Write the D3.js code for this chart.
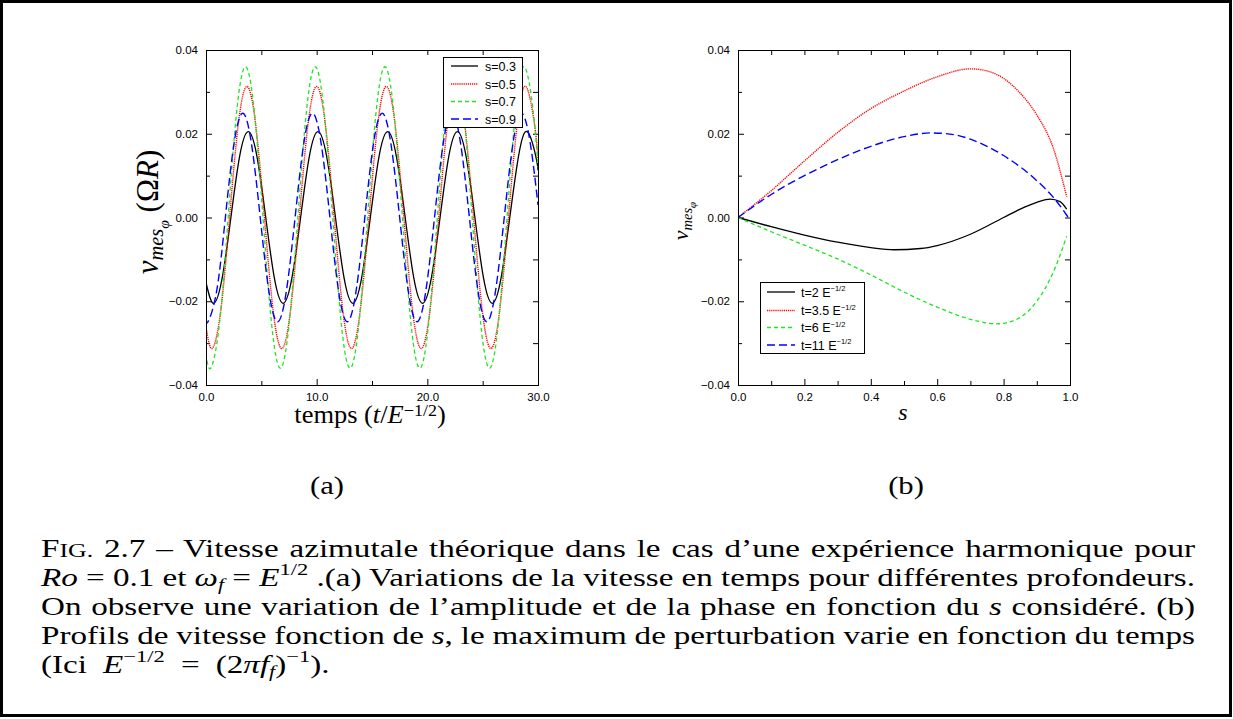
<!DOCTYPE html>
<html><head><meta charset="utf-8">
<script src="https://cdn.jsdelivr.net/npm/d3@7"></script>
<style>body{margin:0;background:#fff}svg{display:block}</style>
</head><body>
<svg id="c" width="1233" height="719"></svg>
<script>
// ---------------- data ----------------
const timeTicks = [0, 10, 20, 30];
const timeTickLabels = ["0.0", "10.0", "20.0", "30.0"];
const timeMinor = [5, 15, 25];
const velTicks = [0.04, 0.02, 0, -0.02, -0.04];
const velTickLabels = ["0.04", "0.02", "0.00", "\u22120.02", "\u22120.04"];
const velMinor = [0.03, 0.01, -0.01, -0.03];
const sTicks = [0, 0.2, 0.4, 0.6, 0.8, 1.0];
const sTickLabels = ["0.0", "0.2", "0.4", "0.6", "0.8", "1.0"];
const sMinor = [0.1, 0.3, 0.5, 0.7, 0.9];

const depthNames = ["s=0.3", "s=0.5", "s=0.7", "s=0.9"];

const tS03 = [0,0.67,1.46,2.25,3.03,3.82,4.61,5.40,6.18,6.97,7.76,8.55,9.33,10.12,10.91,11.70,12.48,13.27,14.06,14.85,15.63,16.42,17.21,18.00,18.78,19.57,20.36,21.15,21.93,22.72,23.51,24.30,25.08,25.87,26.66,27.45,28.23,29.02,29.81,30];
const vS03 = [-0.0155,
 -0.0205,-0.0145,0,0.0145,0.0205,0.0145,0,-0.0145,
 -0.0205,-0.0145,0,0.0145,0.0205,0.0145,0,-0.0145,
 -0.0205,-0.0145,0,0.0145,0.0205,0.0145,0,-0.0145,
 -0.0205,-0.0145,0,0.0145,0.0205,0.0145,0,-0.0145,
 -0.0205,-0.0145,0,0.0145,0.0205,0.0145,
 0.0113];

const tS05 = [0,0.55,1.34,2.13,2.91,3.70,4.49,5.28,6.06,6.85,7.64,8.43,9.21,10.00,10.79,11.58,12.36,13.15,13.94,14.73,15.51,16.30,17.09,17.88,18.66,19.45,20.24,21.03,21.81,22.60,23.39,24.18,24.96,25.75,26.54,27.33,28.11,28.90,29.69,30];
const vS05 = [-0.0260,
 -0.0313,-0.0221,0,0.0221,0.0313,0.0221,0,-0.0221,
 -0.0313,-0.0221,0,0.0221,0.0313,0.0221,0,-0.0221,
 -0.0313,-0.0221,0,0.0221,0.0313,0.0221,0,-0.0221,
 -0.0313,-0.0221,0,0.0221,0.0313,0.0221,0,-0.0221,
 -0.0313,-0.0221,0,0.0221,0.0313,0.0221,
 0.0142];

const tS07 = [0,0.42,1.21,2.00,2.78,3.57,4.36,5.15,5.93,6.72,7.51,8.30,9.08,9.87,10.66,11.45,12.23,13.02,13.81,14.60,15.38,16.17,16.96,17.75,18.53,19.32,20.11,20.90,21.68,22.47,23.26,24.05,24.83,25.62,26.41,27.20,27.98,28.77,29.56,30];
const vS07 = [-0.0325,
 -0.0360,-0.0255,0,0.0255,0.0360,0.0255,0,-0.0255,
 -0.0360,-0.0255,0,0.0255,0.0360,0.0255,0,-0.0255,
 -0.0360,-0.0255,0,0.0255,0.0360,0.0255,0,-0.0255,
 -0.0360,-0.0255,0,0.0255,0.0360,0.0255,0,-0.0255,
 -0.0360,-0.0255,0,0.0255,0.0360,0.0255,
 0.0120];

const tS09 = [0,0.17,0.96,1.75,2.53,3.32,4.11,4.90,5.68,6.47,7.26,8.05,8.83,9.62,10.41,11.20,11.98,12.77,13.56,14.35,15.13,15.92,16.71,17.50,18.28,19.07,19.86,20.65,21.43,22.22,23.01,23.80,24.58,25.37,26.16,26.95,27.73,28.52,29.31,30];
const vS09 = [-0.0242,
 -0.0249,-0.0176,0,0.0176,0.0249,0.0176,0,-0.0176,
 -0.0249,-0.0176,0,0.0176,0.0249,0.0176,0,-0.0176,
 -0.0249,-0.0176,0,0.0176,0.0249,0.0176,0,-0.0176,
 -0.0249,-0.0176,0,0.0176,0.0249,0.0176,0,-0.0176,
 -0.0249,-0.0176,0,0.0176,0.0249,0.0176,
 0.0030];

const profileNames = ["t=2 E", "t=3.5 E", "t=6 E", "t=11 E"];
const profileExp = "\u22121/2";

const sT2  = [0,0.1,0.2,0.3,0.4,0.47,0.55,0.6,0.7,0.8,0.85,0.9,0.94,0.97,0.99];
const vT2  = [0,-0.0022,-0.0042,-0.0059,-0.0072,-0.0077,-0.0074,-0.0067,-0.0040,0.0000,0.0020,0.0036,0.0044,0.0038,0.0020];
const sT35 = [0,0.1,0.2,0.3,0.4,0.5,0.6,0.7,0.75,0.8,0.85,0.9,0.95,0.99];
const vT35 = [0,0.0064,0.0135,0.0203,0.0260,0.0302,0.0336,0.0355,0.0350,0.0332,0.0297,0.0245,0.0165,0.0050];
const sT6  = [0,0.1,0.2,0.3,0.4,0.5,0.6,0.7,0.78,0.84,0.9,0.95,0.99];
const vT6  = [0,-0.0034,-0.0066,-0.0099,-0.0137,-0.0178,-0.0214,-0.0243,-0.0254,-0.0243,-0.0200,-0.0130,-0.0045];
const sT11 = [0,0.1,0.2,0.3,0.4,0.5,0.58,0.65,0.7,0.8,0.9,0.95,0.995];
const vT11 = [0,0.0055,0.0100,0.0138,0.0170,0.0193,0.0202,0.0198,0.0187,0.0148,0.0088,0.0048,0.0000];

// ---------------- styles ----------------
const lineStyles = [
  {color: "#000000", dash: null,  width: 1.3},
  {color: "#ff0000", dash: "1.2,0.9", width: 1.4},
  {color: "#1ee61e", dash: "4,3", width: 1.3},
  {color: "#0000ff", dash: "8,4", width: 1.4}
];
const SANS = "'Liberation Sans', Arial, sans-serif";
const SERIF = "'Liberation Serif', 'Times New Roman', serif";

const zip = (a, b) => a.map((d, i) => [d, b[i]]);
const svg = d3.select("#c");

// outer frame
svg.append("rect").attr("x", 1.5).attr("y", 1.5).attr("width", 1229).attr("height", 714)
  .attr("fill", "none").attr("stroke", "#000").attr("stroke-width", 3);

function panel(id, xs, ys, xt, xl, xm, series, curve) {
  const g = svg.append("g");
  const [x0, x1] = xs.range();
  const [y0, y1] = ys.range();
  const clip = "clip" + id;
  svg.append("clipPath").attr("id", clip).append("rect")
    .attr("x", x0).attr("y", y1).attr("width", x1 - x0).attr("height", y0 - y1);

  const fx = d => xl[xt.indexOf(d)];
  const fy = d => velTickLabels[velTicks.indexOf(d)];
  const style = sel => {
    sel.select(".domain").remove();
    sel.selectAll("line").attr("stroke", "#000").attr("stroke-width", 1);
    sel.selectAll("text").attr("font-family", SANS).attr("font-size", 11.5).attr("fill", "#000");
  };
  g.append("g").attr("transform", `translate(0,${y0})`)
    .call(d3.axisBottom(xs).tickValues(xt).tickFormat(fx).tickSize(-6).tickPadding(8)).call(style);
  g.append("g").attr("transform", `translate(0,${y0})`)
    .call(d3.axisBottom(xs).tickValues(xm).tickFormat("").tickSize(-4)).call(style);
  g.append("g").attr("transform", `translate(0,${y1})`)
    .call(d3.axisTop(xs).tickValues(xt.concat(xm)).tickFormat("").tickSize(-5)).call(style);
  g.append("g").attr("transform", `translate(${x0},0)`)
    .call(d3.axisLeft(ys).tickValues(velTicks).tickFormat(fy).tickSize(-6).tickPadding(8)).call(style);
  g.append("g").attr("transform", `translate(${x0},0)`)
    .call(d3.axisLeft(ys).tickValues(velMinor).tickFormat("").tickSize(-4)).call(style);
  g.append("g").attr("transform", `translate(${x1},0)`)
    .call(d3.axisRight(ys).tickValues(velTicks.concat(velMinor)).tickFormat("").tickSize(-5)).call(style);

  const line = d3.line().x(d => xs(d[0])).y(d => ys(d[1])).curve(curve);
  const lg = g.append("g").attr("clip-path", `url(#${clip})`);
  series.forEach((s, i) => {
    const st = lineStyles[i];
    lg.append("path").datum(s).attr("d", line).attr("fill", "none")
      .attr("stroke", st.color).attr("stroke-width", st.width)
      .attr("stroke-dasharray", st.dash);
  });
  g.append("rect").attr("x", x0 + 0.5).attr("y", y1 + 0.5).attr("width", x1 - x0).attr("height", y0 - y1)
    .attr("fill", "none").attr("stroke", "#000").attr("stroke-width", 1);
  return g;
}

const yA = d3.scaleLinear([-0.04, 0.04], [385, 50]);
const xA = d3.scaleLinear([0, 30], [206, 538]);
const xB = d3.scaleLinear([0, 1], [738, 1070]);

const gA = panel("A", xA, yA, timeTicks, timeTickLabels, timeMinor,
  [zip(tS03, vS03), zip(tS05, vS05), zip(tS07, vS07), zip(tS09, vS09)], d3.curveNatural);
const gB = panel("B", xB, yA, sTicks, sTickLabels, sMinor,
  [zip(sT2, vT2), zip(sT35, vT35), zip(sT6, vT6), zip(sT11, vT11)], d3.curveMonotoneX);

// legends
function legend(g, bx, by, bw, bh, rows, lx0, lx1, tx, names, exp) {
  g.append("rect").attr("x", bx + 0.5).attr("y", by + 0.5).attr("width", bw).attr("height", bh)
    .attr("fill", "#fff").attr("stroke", "#000").attr("stroke-width", 1);
  names.forEach((n, i) => {
    const st = lineStyles[i];
    g.append("line").attr("x1", lx0).attr("x2", lx1).attr("y1", rows[i]).attr("y2", rows[i])
      .attr("stroke", st.color).attr("stroke-width", st.width).attr("stroke-dasharray", st.dash);
    const t = g.append("text").attr("x", tx).attr("y", rows[i] + 4.5)
      .attr("font-family", SANS).attr("font-size", 12.5).attr("fill", "#000");
    t.append("tspan").text(n);
    if (exp) t.append("tspan").attr("font-size", 7.5).attr("dy", -5.5).text(exp);
  });
}
legend(gA, 443, 57, 79, 70, [66, 84, 101.5, 119], 451, 478, 485, depthNames, null);
legend(gB, 760, 282, 104, 71, [292, 310.5, 327.5, 345], 767, 795, 801, profileNames, profileExp);

// rich text helper: segments [text, kind]
function rich(parent, x, y, segs, base, anchor, supShift) {
  const t = parent.append("text").attr("x", x).attr("y", y)
    .attr("font-family", SERIF).attr("font-size", base).attr("fill", "#000")
    .attr("text-anchor", anchor || "start");
  let cur = 0;
  segs.forEach(([txt, kind]) => {
    let size = base, shift = 0, italic = false;
    if (kind === "i") italic = true;
    if (kind === "sc") { size = base * 0.78; }
    if (kind === "sup") { size = base * 0.68; shift = -base * (supShift || 0.42); }
    if (kind === "isub") { size = base * 0.66; shift = base * 0.17; italic = true; }
    if (kind === "isub2") { size = base * 0.5; shift = base * 0.36; italic = true; }
    const ts = t.append("tspan").text(txt).attr("font-size", size).attr("dy", shift - cur);
    if (italic) ts.attr("font-style", "italic");
    cur = shift;
  });
  return t;
}

// axis titles
rich(svg, 0, 0, [["v", "i"], ["mes", "isub"], ["\u03c6", "isub2"], [" (\u03a9", "r"], ["R", "i"], [")", "r"]], 31, "middle")
  .attr("transform", "translate(158,212) rotate(-90)");
rich(svg, 0, 0, [["v", "i"], ["mes", "isub"], ["\u03c6", "isub2"]], 22, "middle")
  .attr("transform", "translate(688,221) rotate(-90)");
rich(svg.append("g").attr("transform", "translate(370,423) scale(1.08,1)"), 0, 0,
  [["temps (", "r"], ["t", "i"], ["/", "r"], ["E", "i"], ["\u22121/2", "sup"], [")", "r"]], 24.5, "middle", 0.3);
rich(svg, 903, 420, [["s", "i"]], 24, "middle");
rich(svg.append("g").attr("transform", "translate(327,494) scale(1.18,1)"), 0, 0, [["(a)", "r"]], 26, "middle");
rich(svg.append("g").attr("transform", "translate(906,494) scale(1.18,1)"), 0, 0, [["(b)", "r"]], 26, "middle");

// caption
const capLines = [
  [["F", "r"], ["IG.", "sc"], [" 2.7 \u2013 Vitesse azimutale th\u00e9orique dans le cas d\u2019une exp\u00e9rience harmonique pour", "r"]],
  [["Ro", "i"], [" = 0.1 et ", "r"], ["\u03c9", "i"], ["f", "isub"], [" = ", "r"], ["E", "i"], ["1/2", "sup"], [" .(a) Variations de la vitesse en temps pour diff\u00e9rentes profondeurs.", "r"]],
  [["On observe une variation de l\u2019amplitude et de la phase en fonction du ", "r"], ["s", "i"], [" consid\u00e9r\u00e9. (b)", "r"]],
  [["Profils de vitesse fonction de ", "r"], ["s", "i"], [", le maximum de perturbation varie en fonction du temps", "r"]],
  [["(Ici ", "r"], ["E", "i"], ["\u22121/2", "sup"], [" = (2", "r"], ["\u03c0", "i"], ["f", "i"], ["f", "isub"], [")", "r"], ["\u22121", "sup"], [").", "r"]]
];
const capBase = [557, 586, 615, 644, 673];
const capX = 41, capW = 1154, capScale = 1.3;
capLines.forEach((segs, i) => {
  const g = svg.append("g").attr("transform", `translate(${capX},${capBase[i]}) scale(${capScale},1)`);
  const t = rich(g, 0, 0, segs, 25.5);
  const spaces = segs.map(s => s[0]).join("").split(" ").length - 1;
  if (i < 4) {
    const nat = t.node().getComputedTextLength();
    const ws = (capW / capScale - nat) / spaces;
    t.attr("word-spacing", ws);
  } else {
    t.attr("word-spacing", 6);
  }
});
</script>
</body></html>
